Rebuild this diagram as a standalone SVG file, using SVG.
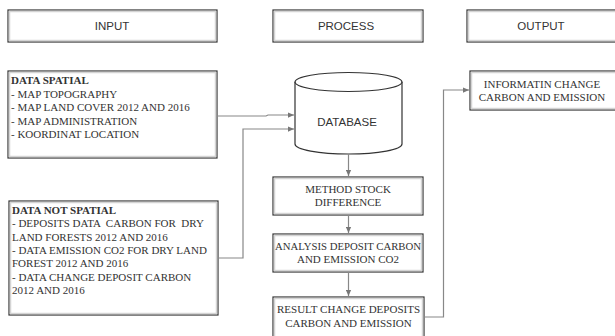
<svg xmlns="http://www.w3.org/2000/svg" width="615" height="336" viewBox="0 0 615 336">
<defs>
<style>
.box{fill:#fff;stroke:#333;stroke-width:1.2}
.inner{fill:none;stroke:#d4d4d4;stroke-width:1.5}
.hdr{font-family:"Liberation Sans",Arial,sans-serif;font-size:11.5px;fill:#333;text-anchor:middle}
.txt{font-family:"Liberation Serif","Times New Roman",serif;font-size:11px;fill:#333}
.ctr{text-anchor:middle}
.b{font-weight:bold}
.con{fill:none;stroke:#888;stroke-width:1.2}
</style>
<marker id="arr" viewBox="0 0 8 8" refX="8" refY="4" markerWidth="6" markerHeight="6" orient="auto" markerUnits="userSpaceOnUse">
<path d="M0,0.5 L8,4 L0,7.5 z" fill="#777"/>
</marker>
</defs>
<rect width="615" height="336" fill="#fff"/>

<g id="hdr-input">
<rect class="box" x="8" y="10" width="209" height="32"/>
<rect class="inner" x="9.5" y="11.5" width="206" height="29"/>
<text class="hdr" x="112" y="30">INPUT</text>
</g>
<g id="hdr-process">
<rect class="box" x="273" y="10" width="150" height="32"/>
<rect class="inner" x="274.5" y="11.5" width="147" height="29"/>
<text class="hdr" x="346" y="30">PROCESS</text>
</g>
<g id="hdr-output">
<rect class="box" x="467" y="10" width="160" height="32"/>
<rect class="inner" x="468.5" y="11.5" width="157" height="29"/>
<text class="hdr" x="541" y="30">OUTPUT</text>
</g>

<g id="data-spatial">
<rect class="box" x="8" y="71" width="209" height="87"/>
<rect class="inner" x="9.5" y="72.5" width="206" height="84"/>
<text class="txt" x="11" y="84"><tspan class="b">DATA SPATIAL</tspan>
<tspan x="11" dy="13.5">- MAP TOPOGRAPHY</tspan>
<tspan x="11" dy="13.5">- MAP LAND COVER 2012 AND 2016</tspan>
<tspan x="11" dy="13.5">- MAP ADMINISTRATION</tspan>
<tspan x="11" dy="13.5">- KOORDINAT LOCATION</tspan></text>
</g>

<g id="data-not-spatial">
<rect class="box" x="9" y="201" width="209" height="114"/>
<rect class="inner" x="10.5" y="202.5" width="206" height="111"/>
<text class="txt" x="12" y="214"><tspan class="b">DATA NOT SPATIAL</tspan>
<tspan x="12" dy="13.3">- DEPOSITS DATA &#160;CARBON FOR &#160;DRY</tspan>
<tspan x="12" dy="13.3">LAND FORESTS 2012 AND 2016</tspan>
<tspan x="12" dy="13.3">- DATA EMISSION CO2 FOR DRY LAND</tspan>
<tspan x="12" dy="13.3">FOREST 2012 AND 2016</tspan>
<tspan x="12" dy="13.3">- DATA CHANGE DEPOSIT CARBON</tspan>
<tspan x="12" dy="13.3">2012 AND 2016</tspan></text>
</g>

<g id="database">
<path d="M295,82 L295,144 A53.5,10 0 0 0 402,144 L402,82" fill="#fff" stroke="#333" stroke-width="1.2"/>
<ellipse cx="348.5" cy="82" rx="53.5" ry="9.5" fill="#fff" stroke="#333" stroke-width="1.2"/>
<text class="hdr" x="347" y="126">DATABASE</text>
</g>

<g id="method">
<rect class="box" x="273" y="177" width="150" height="38"/>
<rect class="inner" x="274.5" y="178.5" width="147" height="35"/>
<text class="txt ctr" x="348" y="193">METHOD STOCK</text>
<text class="txt ctr" x="348" y="206">DIFFERENCE</text>
</g>

<g id="analysis">
<rect class="box" x="273" y="234" width="150" height="38"/>
<rect class="inner" x="274.5" y="235.5" width="147" height="35"/>
<text class="txt ctr" x="348" y="250" textLength="146" lengthAdjust="spacingAndGlyphs">ANALYSIS DEPOSIT CARBON</text>
<text class="txt ctr" x="348" y="263">AND EMISSION CO2</text>
</g>

<g id="result">
<rect class="box" x="273" y="297" width="151" height="46"/>
<rect class="inner" x="274.5" y="298.5" width="148" height="43"/>
<text class="txt ctr" x="348.5" y="313">RESULT CHANGE DEPOSITS</text>
<text class="txt ctr" x="348.5" y="327">CARBON AND EMISSION</text>
</g>

<g id="information">
<rect class="box" x="470" y="71" width="160" height="39"/>
<rect class="inner" x="471.5" y="72.5" width="157" height="36"/>
<text class="txt ctr" x="542" y="88">INFORMATIN CHANGE</text>
<text class="txt ctr" x="542" y="101">CARBON AND EMISSION</text>
</g>

<g id="connectors">
<path class="con" d="M217,116 L266,116 L268,115 L294,115" marker-end="url(#arr)"/>
<path class="con" d="M218,258 L243,258 L243,129 L294,129" marker-end="url(#arr)"/>
<path class="con" d="M348.5,154 L348.5,176" marker-end="url(#arr)"/>
<path class="con" d="M348.5,215 L348.5,233" marker-end="url(#arr)"/>
<path class="con" d="M348.5,272 L348.5,296" marker-end="url(#arr)"/>
<path class="con" d="M424,317 L443.5,317 L443.5,90 L469,90" marker-end="url(#arr)"/>
</g>
</svg>
